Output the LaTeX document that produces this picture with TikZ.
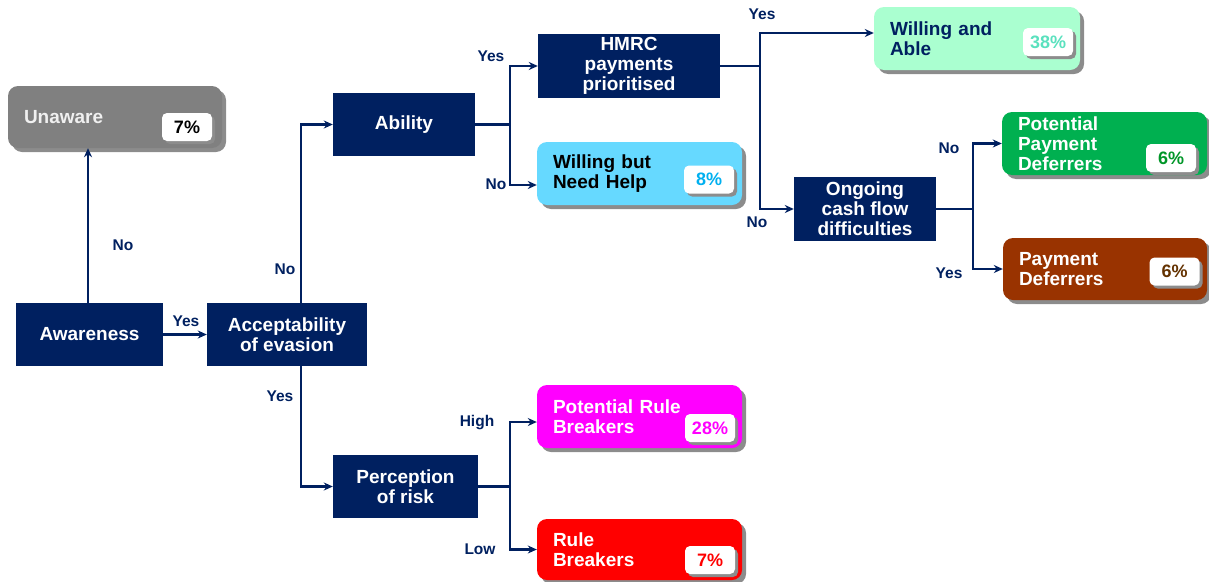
\documentclass[tikz,border=0pt]{standalone}
\usepackage{fontspec}
\setmainfont{Liberation Sans}
\usetikzlibrary{
  calc,positioning,shadows,
  arrows.meta
}
\definecolor{navy}{RGB}{0,32,96}
\definecolor{unawaregrey}{RGB}{128,128,128}
\definecolor{helpblue}{RGB}{102,217,255}
\definecolor{helpbluetxt}{RGB}{0,176,240}
\definecolor{ablemint}{RGB}{170,255,208}
\definecolor{ablemintxt}{RGB}{90,225,190}
\definecolor{defgreen}{RGB}{0,176,80}
\definecolor{defgreentxt}{RGB}{0,150,40}
\definecolor{defbrown}{RGB}{153,51,0}
\definecolor{defbrowntxt}{RGB}{100,50,0}
\definecolor{rulepink}{RGB}{255,0,255}
\definecolor{rulered}{RGB}{255,0,0}

\begin{document}
\begin{tikzpicture}[x=1pt,y=-1pt,
  qbox/.style={fill=navy,text=white,font=\bfseries\fontsize{19}{20}\selectfont,
    align=center,inner sep=0pt},
  outbox/.style={rounded corners=10pt,font=\bfseries\fontsize{19}{20}\selectfont,
    align=left,inner xsep=16pt,inner ysep=0pt,
    drop shadow={shadow xshift=4pt,shadow yshift=-4pt,fill=black!45,opacity=1}},
  pct/.style={fill=white,rounded corners=5pt,minimum width=50pt,minimum height=28pt,
    inner sep=0pt,font=\bfseries\fontsize{18}{18}\selectfont,
    drop shadow={shadow xshift=3pt,shadow yshift=-3pt,fill=black!45,opacity=1}},
  seg/.style={navy,line width=2.4pt},
  link/.style={seg,-{Stealth[length=9pt,width=8pt]}},
  ans/.style={text=navy,font=\bfseries\fontsize{15.5}{16}\selectfont,inner sep=0pt}]

\useasboundingbox (0,0) rectangle (1209,581);

\node[qbox,minimum width=147pt,minimum height=63pt] (aware) at (89.5,334.5) {Awareness};
\node[qbox,minimum width=160pt,minimum height=63pt] (accept) at (287,334.5) {Acceptability\\of evasion};
\node[qbox,minimum width=142pt,minimum height=63pt] (ability) at (404,124.5) {Ability};
\node[qbox,minimum width=182pt,minimum height=64pt] (hmrc) at (629,66) {HMRC\\payments\\prioritised};
\node[qbox,minimum width=142pt,minimum height=64pt] (ongoing) at (865,209) {Ongoing\\cash flow\\difficulties};
\node[qbox,minimum width=145pt,minimum height=63pt] (risk) at (405.5,486.5) {Perception\\of risk};

\node[outbox,fill=unawaregrey,text=white!94!black,text width=182pt,minimum height=62pt] (unaware) at (115,117) {Unaware};
\node[outbox,fill=helpblue,text=black,text width=173pt,minimum height=63pt] (wbnh) at (639.5,173.5) {Willing but\\Need Help};
\node[outbox,fill=ablemint,text=navy,text width=174pt,minimum height=63pt] (wanda) at (977,38.5) {Willing and\\Able};
\node[outbox,fill=defgreen,text=white,text width=173pt,minimum height=63pt] (ppd) at (1104.5,143.5) {Potential\\Payment\\Deferrers};
\node[outbox,fill=defbrown,text=white,text width=172pt,minimum height=62pt] (pd) at (1105,269) {Payment\\Deferrers};
\node[outbox,fill=rulepink,text=white,text width=173pt,minimum height=63pt] (prb) at (639.5,416.5) {Potential Rule\\Breakers};
\node[outbox,fill=rulered,text=white,text width=173pt,minimum height=61pt] (rb) at (639.5,549.5) {Rule\\Breakers};

\node[pct,text=black] (unawarepct) at (187,127) {7\%};
\node[pct,text=helpbluetxt] (wbnhpct) at (709,179.5) {8\%};
\node[pct,text=ablemintxt] (wandapct) at (1048,42) {38\%};
\node[pct,text=defgreentxt] (ppdpct) at (1171,158) {6\%};
\node[pct,text=defbrowntxt] (pdpct) at (1174.5,271.5) {6\%};
\node[pct,text=rulepink] (prbpct) at (710,428) {28\%};
\node[pct,text=rulered] (rbpct) at (710,560) {7\%};

\draw[link] ([xshift=-1.5pt]aware.north) -- ([xshift=-1.5pt]aware.north |- unaware.south);
\draw[link] (aware) -- (accept);
\draw[link] ([xshift=14pt]accept.north) |- (ability);
\draw[link] ([xshift=14pt]accept.south) |- (risk);

\coordinate (abilityjoin) at ($(ability.east)+(35,0)$);
\draw[seg] (ability.east) -- (abilityjoin);
\draw[link] (abilityjoin) |- (hmrc.west);
\draw[link] (abilityjoin) |- ($(wbnh.west)+(0,11.5)$);

\coordinate (hmrcjoin) at ($(hmrc.east)+(40,0)$);
\draw[seg] (hmrc.east) -- (hmrcjoin);
\draw[link] (hmrcjoin) |- ($(wanda.west)+(0,-5.5)$);
\draw[link] (hmrcjoin) |- (ongoing.west);

\coordinate (ongoingjoin) at ($(ongoing.east)+(37,0)$);
\draw[seg] (ongoing.east) -- (ongoingjoin);
\draw[link] (ongoingjoin) |- (ppd.west);
\draw[link] (ongoingjoin) |- (pd.west);

\coordinate (riskjoin) at ($(risk.east)+(32,0)$);
\draw[seg] (risk.east) -- (riskjoin);
\draw[link] (riskjoin) |- ($(prb.west)+(0,5.5)$);
\draw[link] (riskjoin) |- (rb.west);

\node[ans] (awareno) at (123,245) {No};
\node[ans] (awareyes) at (186,321) {Yes};
\node[ans] (acceptno) at (285,269) {No};
\node[ans] (acceptyes) at (280,396) {Yes};
\node[ans] (abilityyes) at (491,56) {Yes};
\node[ans] (abilityno) at (496,184) {No};
\node[ans] (hmrcyes) at (762,14) {Yes};
\node[ans] (hmrcno) at (757,222) {No};
\node[ans] (ongoingno) at (949,148) {No};
\node[ans] (ongoingyes) at (949,273) {Yes};
\node[ans] (riskhigh) at (477,423) {High};
\node[ans] (risklow) at (480,549) {Low};
\end{tikzpicture}
\end{document}
